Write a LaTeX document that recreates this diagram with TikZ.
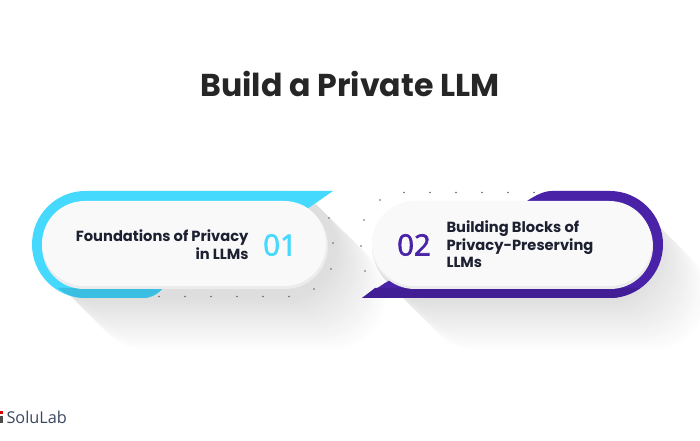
\documentclass[tikz,border=0pt]{standalone}
\usepackage{fontspec}
\setmainfont{Poppins}[BoldFont={Poppins Bold}]
\newfontfamily\numfont{Open Sans}[FakeBold=2]
\newfontfamily\logofont{Open Sans}
\definecolor{skyblue}{RGB}{69,217,253}
\definecolor{skydark}{RGB}{58,190,226}
\definecolor{deeppurple}{RGB}{74,34,168}
\definecolor{darkpurple}{RGB}{66,30,150}
\definecolor{inktext}{RGB}{28,32,48}
\definecolor{logotext}{RGB}{58,72,96}
\definecolor{pillwhite}{RGB}{249,249,250}
\definecolor{pilledge}{RGB}{236,236,238}
\tikzset{every picture/.style={line width=0.75pt},
  stepdot/.style={circle,fill=black!60,inner sep=0pt,minimum size=1.3pt},
  steptext/.style={inner sep=0.75pt,font=\bfseries\fontsize{11}{13.4}\selectfont,text=inktext},
  stepnum/.style={inner sep=0.75pt,font=\numfont\fontsize{22}{22}\selectfont}}

\begin{document}
\begin{tikzpicture}[x=0.75pt,y=0.75pt,yscale=-1,xscale=1]
\useasboundingbox (0,0) rectangle (700,441);
\fill [white] (0,0) rectangle (700,441);

%Shadow left
\foreach \i in {54,52,...,0} {
  \pgfmathsetmacro{\lev}{13*(1-\i/54)}
  \fill [black!\lev!white,rounded corners=40pt,shift={(\i,\i)}] (41.5,191) rectangle (334.5,298);
}
%Shadow right
\foreach \i in {54,52,...,0} {
  \pgfmathsetmacro{\lev}{13*(1-\i/54)}
  \fill [black!\lev!white,rounded corners=40pt,shift={(\i,\i)}] (372,191) rectangle (655,298);
}
%Clean above the shadows
\fill [white] (333,191) -- (345,191) -- (345,233) -- (312,200) -- cycle;
\fill [white] (365,186) -- (560,186) -- (560,205) -- (375,240) -- (372,240) -- cycle;

%Dots left
\foreach \dx in {159,185,211,237,263,289}
  \node (dotl\dx) [stepdot] at (\dx,296.5) {};
\node (dotla) [stepdot] at (314,289) {};
\node (dotlb) [stepdot] at (331,269) {};
\node (dotlc) [stepdot] at (333,243) {};
\node (dotld) [stepdot] at (329,218) {};
%Dots right
\foreach \dx in {404,430,456,482,508,534}
  \node (dotr\dx) [stepdot] at (\dx,192.5) {};
\node (dotra) [stepdot] at (380,200) {};
\node (dotrb) [stepdot] at (364,220) {};
\node (dotrc) [stepdot] at (361,246) {};
\node (dotrd) [stepdot] at (365,271) {};

%Blue band
\fill [skyblue] (333,191) -- (85,191) .. controls (56,191) and (32,215) .. (32,244.5) .. controls (32,274) and (56,298) .. (85,298) -- (143,298) .. controls (151,298) and (158,294) .. (164,287) -- (310,207) -- cycle;
\fill [skydark] (58,288) -- (163,288) .. controls (158,294) and (151,298) .. (143,298) -- (85,298) .. controls (75,298) and (66,295) .. (58,288) -- cycle;
%Purple band
\fill [deeppurple] (362,298) -- (610,298) .. controls (639,298) and (663,274) .. (663,244.5) .. controls (663,215) and (639,191) .. (610,191) -- (552,191) .. controls (544,191) and (536,195) .. (527,201) -- (385,283) -- cycle;
\fill [darkpurple] (375,288) -- (640,288) .. controls (631,294) and (621,298) .. (610,298) -- (362,298) -- cycle;

%Pills
\fill [pilledge] (84,203) -- (285,203) .. controls (309,203) and (328,222) .. (328,246) .. controls (328,270) and (309,289) .. (285,289) -- (84,289) .. controls (60,289) and (42,270) .. (42,246) .. controls (42,222) and (60,203) .. (84,203) -- cycle;
\fill [pillwhite] (85,201) -- (284,201) .. controls (308,201) and (326,220) .. (326,244) .. controls (326,267) and (308,286) .. (284,286) -- (85,286) .. controls (61,286) and (42,267) .. (42,244) .. controls (42,220) and (61,201) .. (85,201) -- cycle;
\fill [pilledge] (415,203) -- (610,203) .. controls (634,203) and (653,222) .. (653,246) .. controls (653,270) and (634,289) .. (610,289) -- (415,289) .. controls (391,289) and (372,270) .. (372,246) .. controls (372,222) and (391,203) .. (415,203) -- cycle;
\fill [pillwhite] (415,201) -- (609,201) .. controls (633,201) and (652,220) .. (652,244) .. controls (652,267) and (633,286) .. (609,286) -- (415,286) .. controls (391,286) and (372,267) .. (372,244) .. controls (372,220) and (391,201) .. (415,201) -- cycle;

%Logo mark
\fill [red!85!black] (0,411) rectangle (3,414);
\fill [black!70] (0,416) rectangle (3,423);

% Text Node
\node (title) [inner sep=0.75pt,font=\bfseries\fontsize{23.7}{28}\selectfont,text=black!85] at (350,84) {Build a Private LLM};
% Text Node
\node (labela) [steptext,anchor=east,align=right] at (250,245) {Foundations of Privacy\\in LLMs};
% Text Node
\node (numa) [stepnum,text=skyblue] at (280,245) {01};
% Text Node
\node (labelb) [steptext,anchor=west,align=left] at (445,244.3) {Building Blocks of\\Privacy-Preserving\\LLMs};
% Text Node
\node (numb) [stepnum,text=deeppurple] at (414,245) {02};
% Text Node
\node (logo) [inner sep=0.75pt,anchor=west,font=\logofont\fontsize{12.2}{13}\selectfont,text=logotext] at (5,417) {SoluLab};
\end{tikzpicture}
\end{document}
